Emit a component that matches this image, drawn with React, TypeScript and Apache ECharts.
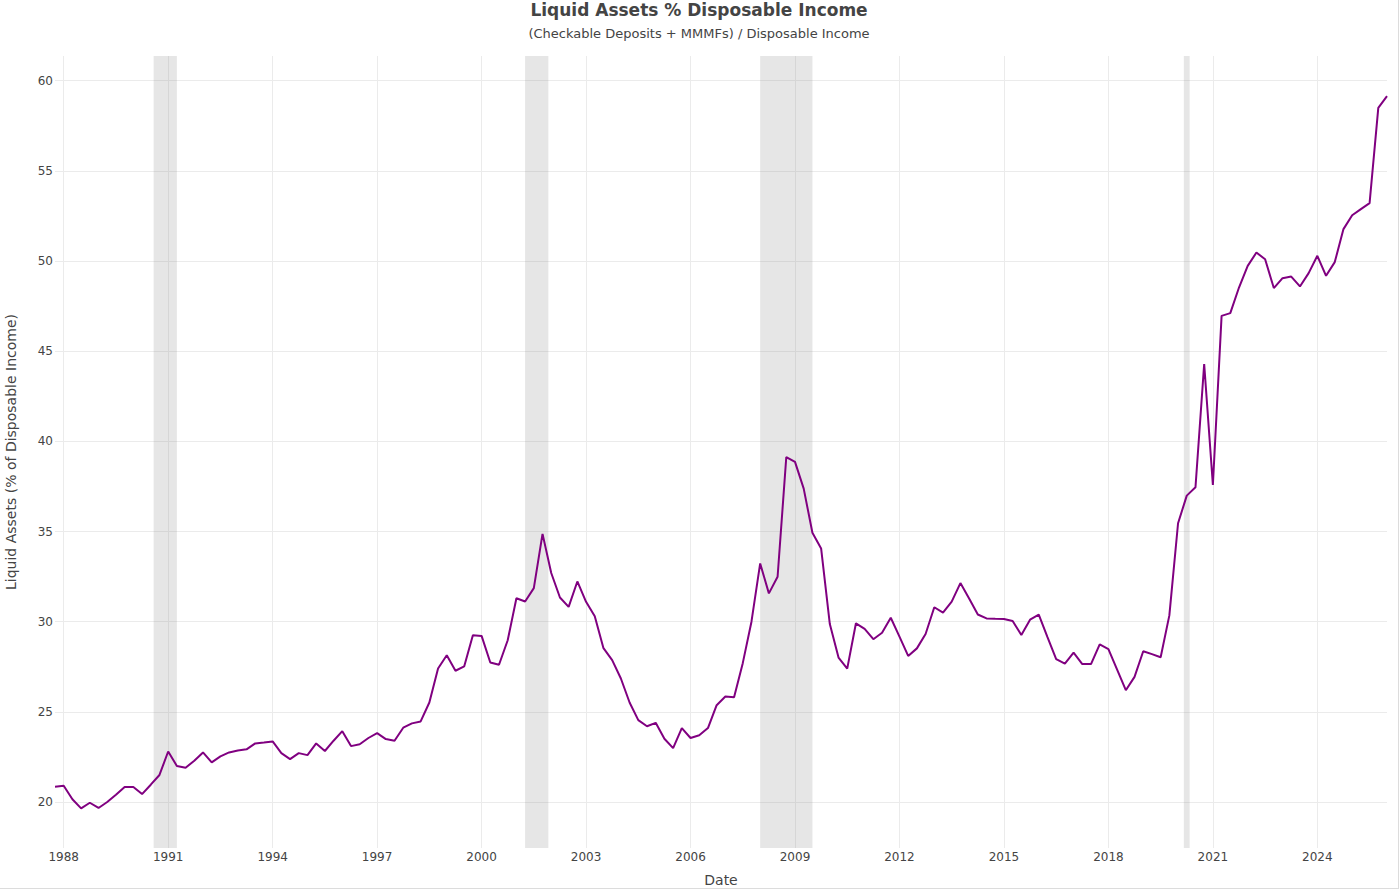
import React, { useEffect, useRef } from "react";
import * as echarts from "echarts";

// Quarterly observations, first quarter = 1987 Q4
const FIRST_YEAR = 1987;
const FIRST_QUARTER = 4;

const liquidPct: number[] = [
  20.85,
  20.9, 20.15, 19.65, 19.96, // 1988
  19.67, 20.0, 20.4, 20.83, // 1989
  20.83, 20.44, 20.96, 21.5, // 1990
  22.8, 22.0, 21.9, 22.29, // 1991
  22.75, 22.2, 22.53, 22.75, // 1992
  22.86, 22.92, 23.25, 23.3, // 1993
  23.36, 22.71, 22.38, 22.71, // 1994
  22.6, 23.25, 22.83, 23.4, // 1995
  23.93, 23.1, 23.2, 23.55, // 1996
  23.82, 23.49, 23.4, 24.12, // 1997
  24.36, 24.47, 25.52, 27.4, // 1998
  28.14, 27.28, 27.52, 29.25, // 1999
  29.21, 27.74, 27.61, 28.97, // 2000
  31.3, 31.12, 31.86, 34.87, // 2001
  32.7, 31.34, 30.82, 32.23, // 2002
  31.1, 30.3, 28.53, 27.87, // 2003
  26.85, 25.52, 24.54, 24.2, // 2004
  24.39, 23.51, 22.99, 24.1, // 2005
  23.55, 23.7, 24.1, 25.37, // 2006
  25.85, 25.81, 27.7, 30.0, // 2007
  33.23, 31.57, 32.49, 39.13, // 2008
  38.86, 37.38, 34.93, 34.06, // 2009
  29.87, 28.01, 27.4, 29.91, // 2010
  29.6, 29.03, 29.39, 30.22, // 2011
  29.17, 28.1, 28.52, 29.32, // 2012
  30.8, 30.5, 31.11, 32.14, // 2013
  31.29, 30.4, 30.18, 30.16, // 2014
  30.15, 30.04, 29.26, 30.11, // 2015
  30.39, 29.14, 27.93, 27.67, // 2016
  28.28, 27.65, 27.65, 28.74, // 2017
  28.48, 27.34, 26.2, 26.94, // 2018
  28.36, 28.2, 28.03, 30.35, // 2019
  35.46, 36.99, 37.45, 44.29, // 2020
  37.58, 46.96, 47.11, 48.53, // 2021
  49.73, 50.47, 50.1, 48.5, // 2022
  49.05, 49.14, 48.59, 49.33, // 2023
  50.29, 49.18, 49.94, 51.77, // 2024
  52.54, 52.88, 53.21, 58.49, // 2025
  59.14, // 2026
];

// Recession periods (start, end) as "YYYY-MM"
const recessionStarts = ["1990-08", "2001-04", "2008-01", "2020-03"];
const recessionEnds = ["1991-04", "2001-12", "2009-07", "2020-05"];

const TITLE = "Liquid Assets % Disposable Income";
const SUBTITLE = "(Checkable Deposits + MMMFs) / Disposable Income";
const Y_NAME = "Liquid Assets (% of Disposable Income)";
const X_NAME = "Date";

// x axis is expressed in years relative to this base so 3-year ticks land on 1988, 1991, ...
const YEAR_BASE = 1985;

const monthToX = (ym: string) => {
  const [y, m] = ym.split("-").map(Number);
  return y + (m - 1) / 12 - YEAR_BASE;
};

const quarterX = (i: number) => {
  const q0 = FIRST_QUARTER - 1 + i;
  const year = FIRST_YEAR + Math.floor(q0 / 4);
  const month = (q0 % 4) * 3 + 1;
  return year + (month - 1) / 12 - YEAR_BASE;
};

export default function App() {
  const ref = useRef<HTMLDivElement>(null);

  useEffect(() => {
    document.body.style.margin = "0";
    if (!ref.current) return;
    const chart = echarts.init(ref.current, null, { renderer: "svg" });
    const seriesData = liquidPct.map((v, i) => [quarterX(i), v]);
    const xMin = seriesData[0][0];
    const xMax = seriesData[seriesData.length - 1][0];
    const font = "DejaVu Sans";
    const textColor = "#444";

    chart.setOption({
      animation: false,
      backgroundColor: "#fff",
      textStyle: { fontFamily: font },
      title: [
        {
          text: TITLE,
          left: "center",
          top: 1,
          padding: 0,
          textStyle: { fontSize: 17, fontWeight: "bold", color: textColor, fontFamily: font, lineHeight: 18 },
        },
        {
          text: SUBTITLE,
          left: "center",
          top: 25,
          padding: 0,
          textStyle: { fontSize: 13, fontWeight: "normal", color: textColor, fontFamily: font, lineHeight: 16 },
        },
      ],
      grid: { left: 55, right: 11, top: 56, bottom: 40, containLabel: false, outerBoundsMode: "none" },
      xAxis: {
        type: "value",
        min: xMin,
        max: xMax,
        splitNumber: 13,
        name: X_NAME,
        nameLocation: "middle",
        nameGap: 25,
        nameTextStyle: { fontSize: 14, color: textColor, fontFamily: font },
        axisLine: { show: false },
        axisTick: { show: false },
        axisLabel: {
          margin: 3,
          fontSize: 12,
          color: textColor,
          fontFamily: font,
          showMinLabel: false,
          showMaxLabel: false,
          formatter: (v: number) => String(Math.round(v + YEAR_BASE)),
        },
        splitLine: {
          show: true,
          showMinLine: false,
          showMaxLine: false,
          lineStyle: { color: "#ebebeb", width: 1 },
        },
      },
      yAxis: {
        type: "value",
        min: 17.45,
        max: 61.37,
        splitNumber: 9,
        name: Y_NAME,
        nameLocation: "middle",
        nameGap: 37,
        nameRotate: 90,
        nameTextStyle: { fontSize: 14, color: textColor, fontFamily: font },
        axisLine: { show: false },
        axisTick: { show: false },
        axisLabel: {
          margin: 2,
          fontSize: 12,
          color: textColor,
          fontFamily: font,
          showMinLabel: false,
          showMaxLabel: false,
        },
        splitLine: {
          show: true,
          showMinLine: false,
          showMaxLine: false,
          lineStyle: { color: "#ebebeb", width: 1 },
        },
      },
      series: [
        {
          type: "line",
          data: seriesData,
          showSymbol: false,
          symbol: "none",
          lineStyle: { color: "#800080", width: 2 },
          itemStyle: { color: "#800080" },
          z: 3,
          markArea: {
            silent: true,
            itemStyle: { color: "rgba(128,128,128,0.2)" },
            data: recessionStarts.map((s, i) => [
              { xAxis: monthToX(s) },
              { xAxis: monthToX(recessionEnds[i]) },
            ]),
          },
        },
      ],
    });

    return () => chart.dispose();
  }, []);

  return (
    <div
      style={{
        width: 1398,
        height: 888,
        borderRight: "1px solid #dcdcdc",
        borderBottom: "1px solid #dcdcdc",
      }}
    >
      <div ref={ref} style={{ width: 1398, height: 888 }} />
    </div>
  );
}
